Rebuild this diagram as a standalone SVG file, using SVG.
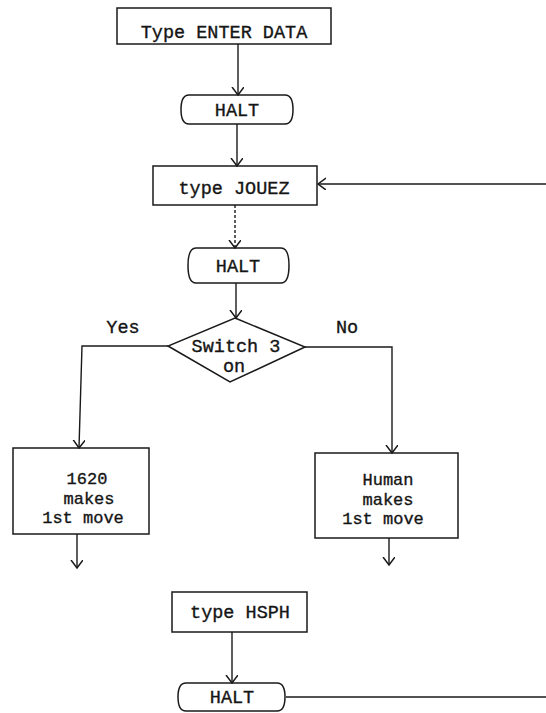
<svg xmlns="http://www.w3.org/2000/svg" width="546" height="713" viewBox="0 0 546 713">
<style>
.box{fill:none;stroke:#1a1a1a;stroke-width:1.5}
.ln{fill:none;stroke:#1a1a1a;stroke-width:1.4}
.arr{marker-end:url(#ah)}
text{font-family:"Liberation Mono","DejaVu Sans Mono",monospace;font-size:18.5px;fill:#151515;stroke:#151515;stroke-width:0.35;text-anchor:middle}
.sm{font-size:17px}
</style>
<defs>
<marker id="ah" markerWidth="12" markerHeight="14" refX="8" refY="6" orient="auto" markerUnits="userSpaceOnUse">
<path d="M0,0 L8,6 L0,12" fill="none" stroke="#1a1a1a" stroke-width="1.5"/>
</marker>
</defs>
<rect width="546" height="713" fill="#fff"/>
<g id="connectors">
<path class="ln arr" d="M238,44 V95"/>
<path class="ln arr" d="M237,124 V166"/>
<path class="ln arr" d="M546,184 H318"/>
<path class="ln arr" d="M235,205 V248" stroke-dasharray="3,2"/>
<path class="ln arr" d="M236,283 V318"/>
<path class="ln arr" d="M168,346 H82 L79,448"/>
<path class="ln arr" d="M305,347 H392 V453"/>
<path class="ln arr" d="M77,534 V568"/>
<path class="ln arr" d="M389,538 V565"/>
<path class="ln arr" d="M232,632 V683"/>
<path class="ln" d="M286,697 H546"/>
</g>
<g id="n1"><rect class="box" x="117" y="8" width="214" height="36"/><text x="224" y="38">Type ENTER DATA</text></g>
<g id="n2"><path class="box" d="M189,95 H285 Q293,95 293,109.5 Q293,124 285,124 H189 Q181,124 181,109.5 Q181,95 189,95 Z"/><text x="237" y="116">HALT</text></g>
<g id="n3"><rect class="box" x="153" y="166" width="164" height="39"/><text x="234" y="194">type JOUEZ</text></g>
<g id="n4"><path class="box" d="M196,248 H281 Q289,248 289,265.5 Q289,283 281,283 H196 Q188,283 188,265.5 Q188,248 196,248 Z"/><text x="238" y="272">HALT</text></g>
<g id="n5"><path class="box" d="M235,318 L305,347 L230,382 L168,346 Z"/><text x="236" y="352">Switch 3</text><text x="234" y="372">on</text></g>
<g id="yes"><text x="123" y="333">Yes</text></g>
<g id="no"><text x="347" y="333">No</text></g>
<g id="n6"><rect class="box" x="13" y="448" width="136" height="86"/><text class="sm" x="87" y="484">1620</text><text class="sm" x="89" y="503.5">makes</text><text class="sm" x="83" y="523">1st move</text></g>
<g id="n7"><rect class="box" x="315" y="453" width="143" height="85"/><text class="sm" x="388" y="485">Human</text><text class="sm" x="388" y="504.5">makes</text><text class="sm" x="383" y="524">1st move</text></g>
<g id="n8"><rect class="box" x="172" y="592" width="135" height="40"/><text x="240" y="618">type HSPH</text></g>
<g id="n9"><path class="box" d="M186,683 H277 Q285,683 285,697 Q285,711 277,711 H186 Q178,711 178,697 Q178,683 186,683 Z"/><text x="232" y="703">HALT</text></g>
</svg>
